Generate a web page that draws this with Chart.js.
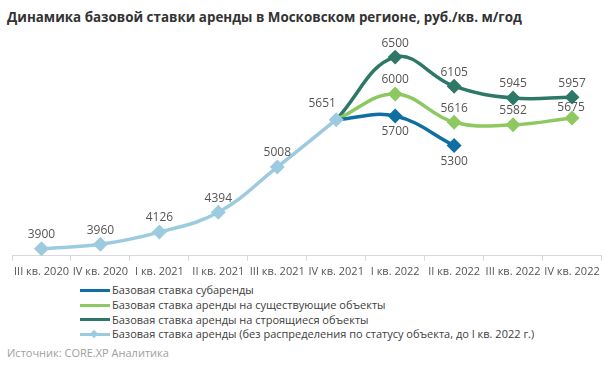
<!DOCTYPE html>
<html>
<head>
<meta charset="utf-8">
<script src="https://cdn.jsdelivr.net/npm/chart.js@4"></script>
<style>
  body { margin: 0; background: #fff; font-family: "Open Sans", sans-serif; }
  #wrap { position: relative; width: 610px; height: 372px; }
  #title { position: absolute; left: 7px; top: 8px; font-size: 13.4px; font-weight: bold; color: #333; }
  #box { position: absolute; left: 0; top: 0; width: 610px; height: 282px; }
  #legend { position: absolute; left: 80px; top: 283px; font-size: 11px; color: #404040; }
  .row { height: 14.8px; line-height: 14.8px; display: flex; align-items: center; }
  .sw { width: 30px; height: 3px; margin-right: 2px; position: relative; }
  .dia { position: absolute; left: 11px; top: -2.5px; width: 6px; height: 6px; transform: rotate(45deg); }
  #src { position: absolute; left: 7px; top: 345px; font-size: 11px; color: #a0a0a0; }
</style>
</head>
<body>
<div id="wrap">
  <div id="title">Динамика базовой ставки аренды в Московском регионе, руб./кв. м/год</div>
  <div id="box"><canvas id="c"></canvas></div>
  <div id="legend"></div>
  <div id="src">Источник: CORE.XP Аналитика</div>
</div>
<script>
const quarters = ['III кв. 2020', 'IV кв. 2020', 'I кв. 2021', 'II кв. 2021', 'III кв. 2021', 'IV кв. 2021', 'I кв. 2022', 'II кв. 2022', 'III кв. 2022', 'IV кв. 2022'];
const sublease = [null, null, null, null, null, 5651, 5700, 5300, null, null];
const existing = [null, null, null, null, null, 5651, 6000, 5616, 5582, 5675];
const underConstruction = [null, null, null, null, null, 5651, 6500, 6105, 5945, 5957];
const baseRate = [3900, 3960, 4126, 4394, 5008, 5651, null, null, null, null];

const seriesNames = [
    'Базовая ставка субаренды',
    'Базовая ставка аренды на существующие объекты',
    'Базовая ставка аренды на строящиеся объекты',
    'Базовая ставка аренды (без распределения по статусу объекта, до I кв. 2022 г.)'
];
const colors = ['#0f6fa3', '#8dc861', '#2d7867', '#9ccbe0'];

// markers on every point except the shared 5651 start of the 2022 series
const radiusFrom5 = quarters.map((q, i) => i > 5 ? 5 : 0);

function ds(label, data, color, radius, labelPos) {
    return {
        label: label,
        data: data,
        borderColor: color,
        backgroundColor: color,
        borderWidth: 3.5,
        pointStyle: 'rectRot',
        pointRadius: radius,
        pointHoverRadius: radius,
        tension: 0.4,
        spanGaps: false,
        labelPos: labelPos
    };
}

const datasets = [
    ds(seriesNames[3], baseRate, colors[3], 5, 'above'),
    ds(seriesNames[0], sublease, colors[0], radiusFrom5, 'below'),
    ds(seriesNames[1], existing, colors[1], radiusFrom5, 'above'),
    ds(seriesNames[2], underConstruction, colors[2], radiusFrom5, 'above')
];
// base series drawn on top so its 5651 marker covers the others
datasets[0].order = -1;

const valueLabels = {
    id: 'valueLabels',
    afterDatasetsDraw(chart) {
        const ctx = chart.ctx;
        ctx.save();
        ctx.font = '12px "Open Sans"';
        ctx.fillStyle = '#555';
        ctx.textAlign = 'center';
        chart.data.datasets.forEach((d, di) => {
            const meta = chart.getDatasetMeta(di);
            meta.data.forEach((pt, i) => {
                const v = d.data[i];
                if (v == null) return;
                if (di > 0 && i === 5) return;
                let x = pt.x, y = pt.y;
                if (d.labelPos === 'below') {
                    ctx.textBaseline = 'top';
                    y += 10;
                } else {
                    ctx.textBaseline = 'bottom';
                    y -= 8;
                }
                if (di === 0 && i === 5) { x -= 14; y -= 2; }
                // last "existing" label sits tight to its marker
                if (di === 2 && i === 9) { y += 4; x -= 1; }
                ctx.fillText(v, x, y);
            });
        });
        ctx.restore();
    }
};

new Chart(document.getElementById('c'), {
    type: 'line',
    data: { labels: quarters, datasets: datasets },
    options: {
        responsive: true,
        maintainAspectRatio: false,
        animation: false,
        layout: { padding: { top: 35, left: 12, right: 8, bottom: 0 } },
        plugins: { legend: { display: false }, tooltip: { enabled: false } },
        scales: {
            y: { display: false, min: 3804, max: 6800 },
            x: {
                offset: true,
                grid: { offset: true, drawOnChartArea: false, tickLength: 5, color: '#d9d9d9' },
                border: { color: '#d9d9d9' },
                ticks: { autoSkip: false, maxRotation: 0, color: '#555', padding: 4, font: { family: 'Open Sans', size: 11 } }
            }
        }
    },
    plugins: [valueLabels]
});

// legend, listed in the reference order
const legend = document.getElementById('legend');
[0, 1, 2, 3].forEach(k => {
    const row = document.createElement('div');
    row.className = 'row';
    const sw = document.createElement('span');
    sw.className = 'sw';
    sw.style.background = colors[k];
    if (k === 3) {
        const d = document.createElement('span');
        d.className = 'dia';
        d.style.background = colors[k];
        sw.appendChild(d);
    }
    const t = document.createElement('span');
    t.textContent = seriesNames[k];
    row.appendChild(sw);
    row.appendChild(t);
    legend.appendChild(row);
});
</script>
</body>
</html>
